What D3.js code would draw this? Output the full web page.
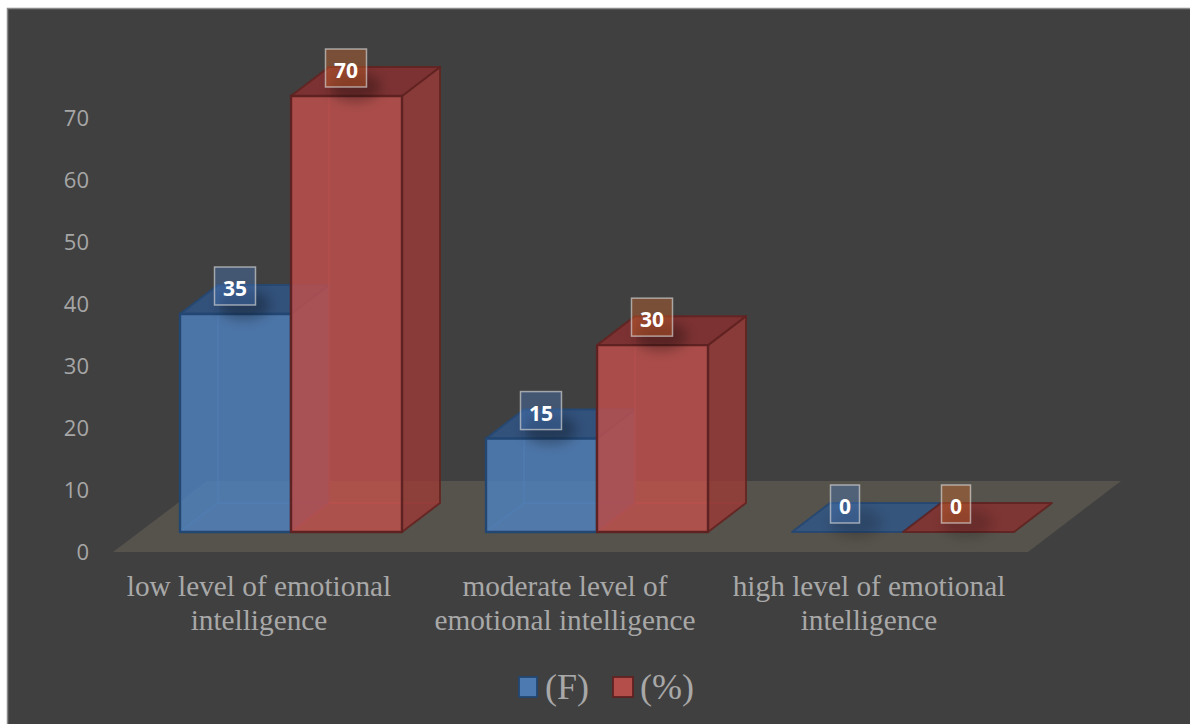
<!DOCTYPE html>
<html><head><meta charset="utf-8">
<style>html,body{margin:0;padding:0;background:#fff;overflow:hidden}svg{display:block}</style>
<script src="https://cdn.jsdelivr.net/npm/d3@7"></script>
</head><body><svg id="c" width="1190" height="724"></svg>
<script>
const categories = [["low level of emotional","intelligence"],["moderate level of","emotional intelligence"],["high level of emotional","intelligence"]];
const seriesNames = ["(F)","(%)"];
const valuesF = [35,15,0];
const valuesP = [70,30,0];
const tickValues = [0,10,20,30,40,50,60,70];

const palette = {
  "(F)":{front:"#4f81bd",side:"#3a6090",top:"#305486",stroke:"#234672",box:"#4a78b8"},
  "(%)":{front:"#c0504d",side:"#983936",top:"#87302e",stroke:"#5f2220",box:"#c8642a"}
};
const depth = {dx:38, dy:-29};
const svg = d3.select("#c");
const defs = svg.append("defs");
defs.append("filter").attr("id","blur").attr("x","-60%").attr("y","-100%").attr("width","220%").attr("height","300%")
  .append("feGaussianBlur").attr("stdDeviation",6);
defs.append("filter").attr("id","soft").attr("filterUnits","userSpaceOnUse").attr("x",0).attr("y",0).attr("width",1190).attr("height",724)
  .append("feGaussianBlur").attr("stdDeviation",0.5);

svg.append("rect").attr("x",7.5).attr("y",8.5).attr("width",1190).attr("height",724)
  .attr("fill","#404040").attr("stroke","#8a8a8a").attr("stroke-width",1.5);

const x0 = d3.scaleBand().domain(d3.range(categories.length)).range([103,1021]);
const x1 = d3.scaleBand().domain(seriesNames).range([77,299]);
const yBar = d3.scaleLinear().domain([0,70]).range([532,96]);
const yTick = d3.scaleLinear().domain([0,70]).range([552,118]);

// floor
svg.append("polygon").attr("points",[[113,552],[207,481],[1121,481],[1028,552]].join(" ")).attr("fill","#55524b").attr("filter","url(#soft)");

// y tick labels
const axisG = svg.append("g").attr("transform","translate(89,0)").call(d3.axisLeft(yTick).tickValues(tickValues).tickSize(0).tickPadding(0));
axisG.select(".domain").remove();
axisG.selectAll("text").attr("fill","#a6a6a6").style("font-family","'Open Sans'").style("font-size","22px").attr("dy","0.36em");

const poly = (g,pts,fill,stroke,op,sop,sw) => g.append("polygon").attr("points",pts.join(" "))
  .attr("fill",fill).attr("fill-opacity",op).attr("stroke",stroke).attr("stroke-opacity",sop).attr("stroke-width",sw).attr("stroke-linejoin","round");

const marks = svg.append("g").attr("filter","url(#soft)");
const rows = seriesNames.flatMap((s,si)=>categories.map((c,i)=>({s,i,v:(si?valuesP:valuesF)[i]})));
rows.sort((a,b)=>a.i-b.i||seriesNames.indexOf(a.s)-seriesNames.indexOf(b.s));
const {dx,dy} = depth;
rows.forEach(r=>{
  const p = palette[r.s], X = x0(r.i)+x1(r.s), W = x1.bandwidth(), B = yBar(0), T = yBar(r.v);
  const g = marks.append("g");
  if (r.v>0){
    poly(g,[[X+dx,B+dy],[X+W+dx,B+dy],[X+W+dx,T+dy],[X+dx,T+dy]],p.front,p.front,0.03,0.3,1.5);
    poly(g,[[X,B],[X+W,B],[X+W+dx,B+dy],[X+dx,B+dy]],p.front,p.front,0.08,0.3,1.5);
    poly(g,[[X,B],[X+dx,B+dy],[X+dx,T+dy],[X,T]],p.side,p.front,0.04,0.25,1.5);
    poly(g,[[X+W,B],[X+W+dx,B+dy],[X+W+dx,T+dy],[X+W,T]],p.side,p.stroke,0.82,0.85,2);
  }
  poly(g,[[X,T],[X+W,T],[X+W+dx,T+dy],[X+dx,T+dy]],p.top,p.stroke,0.82,0.85,2);
  if (r.v>0) poly(g,[[X,B],[X+W,B],[X+W,T],[X,T]],p.front,p.stroke,0.82,1,2.4);
});

// label shadows then boxes
const labels = svg.append("g");
rows.forEach(r=>{
  const cx = x0(r.i)+x1(r.s)+x1.bandwidth()/2-0.5, T = yBar(r.v);
  labels.append("ellipse").attr("cx",cx+9).attr("cy",T-9).attr("rx",26).attr("ry",15)
    .attr("fill","#000").attr("opacity",r.v>0?0.28:0.16).attr("filter","url(#blur)");
});
rows.forEach(r=>{
  const p = palette[r.s], cx = x0(r.i)+x1(r.s)+x1.bandwidth()/2-0.5-(r.v===0?2:0), T = yBar(r.v), cy = T-28;
  const w = String(r.v).length>1?41:29, h = 38;
  labels.append("rect").attr("x",cx-w/2).attr("y",cy-h/2).attr("width",w).attr("height",h)
    .attr("fill",p.box).attr("fill-opacity",0.42).attr("stroke","#d9d9d9").attr("stroke-opacity",0.65).attr("stroke-width",1.5);
  labels.append("text").attr("x",cx).attr("y",cy+10).attr("text-anchor","middle").attr("fill","#fff")
    .style("font-family","'Open Sans'").style("font-weight",700).style("font-size","21px").text(r.v);
});

// category labels
const labelShift = [0,0,-2];
categories.forEach((lines,i)=>{
  const cx = x0(i)+x1.range()[0]+79+labelShift[i];
  lines.forEach((t,j)=>svg.append("text").attr("x",cx).attr("y",596+j*34).attr("text-anchor","middle")
    .attr("fill","#a8a8a8").style("font-family","'Liberation Serif'").style("font-size","29.3px").text(t));
});

// legend
const legendX = d3.scaleOrdinal().domain(seriesNames).range([519,613]);
seriesNames.forEach(s=>{
  const x = legendX(s), p = palette[s];
  svg.append("rect").attr("x",x).attr("y",677).attr("width",s==="(F)"?18:20).attr("height",20)
    .attr("fill",p.front).attr("fill-opacity",0.9).attr("stroke",p.stroke).attr("stroke-width",1.8);
  svg.append("text").attr("x",x+(s==="(F)"?26:27)).attr("y",699).attr("fill","#a8a8a8")
    .style("font-family","'Liberation Serif'").style("font-size","36px").text(s);
});
</script></body></html>
